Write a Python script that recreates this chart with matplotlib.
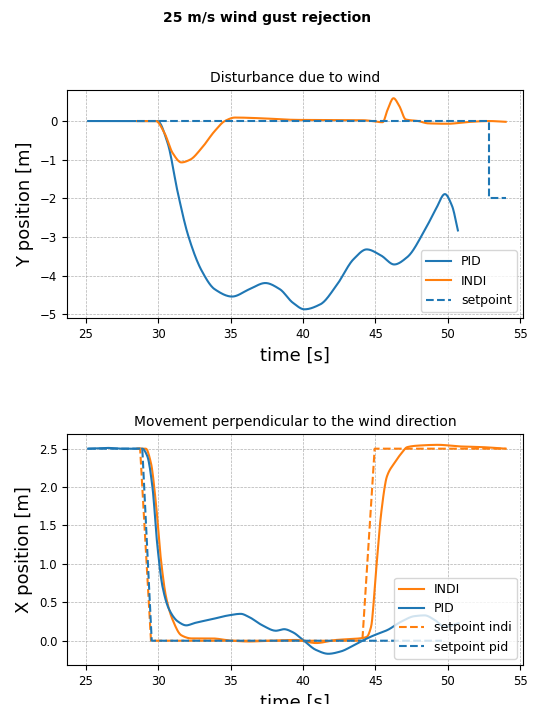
import numpy as np
import matplotlib
matplotlib.use("Agg")
import matplotlib.pyplot as plt

# ---------------- data: top plot (Y position) ----------------
pid_y_t = [25.16, 29.95, 30.65, 31.35, 32.06, 33.0, 33.9, 35.1, 36.3, 37.4, 38.4, 39.3, 40.1,
           41.2, 42.3, 43.5, 44.4, 45.4, 46.3, 47.2, 48.4, 49.2, 49.8, 50.3, 50.7]
pid_y = [0.0, 0.0, -0.57, -1.85, -2.95, -3.87, -4.35, -4.54, -4.35, -4.19, -4.35, -4.70, -4.87,
         -4.74, -4.26, -3.57, -3.32, -3.48, -3.71, -3.52, -2.83, -2.26, -1.89, -2.2, -2.83]

indi_y_t = [28.55, 29.84, 30.42, 31.0, 31.6, 32.2, 33.0, 33.9, 34.6, 35.3, 37.2, 39.5, 44.2,
            45.5, 45.85, 46.25, 46.65, 47.1, 47.95, 48.65, 50.05, 51.2, 52.85, 54.0]
indi_y = [0.0, 0.0, -0.30, -0.83, -1.07, -1.0, -0.70, -0.26, 0.0, 0.09, 0.07, 0.03, 0.02,
          -0.03, 0.30, 0.59, 0.39, 0.04, 0.0, -0.06, -0.07, -0.03, 0.0, -0.02]

sp_y_t = [28.55, 52.85, 52.85, 54.0]
sp_y = [0.0, 0.0, -2.0, -2.0]

# ---------------- data: bottom plot (X position) ----------------
indi_x_t = [28.55, 29.14, 29.5, 29.84, 30.19, 30.54, 31.0, 31.6, 32.3, 33.7, 35.1, 36.26, 37.66,
            39.5, 40.9, 42.3, 43.9, 44.4, 44.7, 45.05, 45.4, 45.8, 46.3, 46.8, 47.2, 47.95,
            49.35, 50.75, 52.4, 54.0]
indi_x = [2.5, 2.5, 2.31, 1.79, 1.05, 0.57, 0.27, 0.07, 0.03, 0.03, 0.0, -0.01, 0.0,
          0.01, -0.03, 0.01, 0.03, 0.05, 0.18, 0.92, 1.66, 2.14, 2.31, 2.44, 2.52, 2.54,
          2.55, 2.53, 2.52, 2.5]

pid_x_t = [25.16, 26.5, 27.5, 28.9, 29.25, 29.6, 29.95, 30.3, 30.77, 31.36, 31.94, 32.5, 33.7,
           34.86, 35.7, 36.26, 37.2, 38.13, 38.7, 39.3, 40.0, 40.9, 41.75, 42.6, 43.5, 44.2,
           44.9, 45.84, 46.8, 47.7, 48.4, 49.1, 49.8, 50.3, 50.75]
pid_x = [2.5, 2.51, 2.5, 2.5, 2.40, 2.0, 1.22, 0.70, 0.40, 0.25, 0.20, 0.23, 0.28,
         0.33, 0.35, 0.31, 0.20, 0.13, 0.15, 0.11, 0.01, -0.12, -0.17, -0.14, -0.06, 0.01,
         0.07, 0.14, 0.25, 0.32, 0.33, 0.27, 0.18, 0.20, 0.23]

sp_indi_t = [28.55, 28.75, 29.5, 44.1, 44.95, 54.0]
sp_indi = [2.5, 2.5, 0.0, 0.0, 2.5, 2.5]

sp_pid_t = [25.16, 28.9, 29.55, 49.6]
sp_pid = [2.5, 2.5, 0.0, 0.0]

ticks_x = [25, 30, 35, 40, 45, 50, 55]


def smooth(t, v, n=600):
    t = np.asarray(t, float)
    v = np.asarray(v, float)
    # monotone cubic (PCHIP-like) interpolation for a smooth curve
    h = np.diff(t)
    d = np.diff(v) / h
    m = np.zeros_like(v)
    m[0], m[-1] = d[0], d[-1]
    for i in range(1, len(v) - 1):
        if d[i - 1] * d[i] <= 0:
            m[i] = 0.0
        else:
            w1 = 2 * h[i] + h[i - 1]
            w2 = h[i] + 2 * h[i - 1]
            m[i] = (w1 + w2) / (w1 / d[i - 1] + w2 / d[i])
    tt = np.linspace(t[0], t[-1], n)
    idx = np.clip(np.searchsorted(t, tt) - 1, 0, len(t) - 2)
    hh = h[idx]
    s = (tt - t[idx]) / hh
    h00 = 2 * s**3 - 3 * s**2 + 1
    h10 = s**3 - 2 * s**2 + s
    h01 = -2 * s**3 + 3 * s**2
    h11 = s**3 - s**2
    vv = h00 * v[idx] + h10 * hh * m[idx] + h01 * v[idx + 1] + h11 * hh * m[idx + 1]
    return tt, vv


blue = "#1f77b4"
orange = "#ff7f0e"

fig = plt.figure(figsize=(5.34, 7.04), dpi=100)
fig.suptitle("25 m/s wind gust rejection", fontsize=10, fontweight="bold", y=0.985)

ax1 = fig.add_axes([0.1255, 0.548, 0.854, 0.324])
ax2 = fig.add_axes([0.1255, 0.0554, 0.854, 0.328])

# top
ax1.plot(*smooth(pid_y_t, pid_y), color=blue, lw=1.5, label="PID")
ax1.plot(*smooth(indi_y_t, indi_y), color=orange, lw=1.5, label="INDI")
ax1.plot(sp_y_t, sp_y, color=blue, lw=1.5, ls="--", label="setpoint")
ax1.set_title("Disturbance due to wind", fontsize=10)
ax1.set_ylabel("Y position [m]", fontsize=13)
ax1.set_xlabel("time [s]", fontsize=13)
ax1.set_xlim(23.7, 55.2)
ax1.set_ylim(-5.1, 0.8)
ax1.set_xticks(ticks_x)
ax1.set_yticks([0, -1, -2, -3, -4, -5])
ax1.grid(True, ls="--", lw=0.5, color="#b0b0b0")
ax1.legend(loc="lower right", fontsize=9)

# bottom
ax2.plot(*smooth(indi_x_t, indi_x), color=orange, lw=1.5, label="INDI")
ax2.plot(*smooth(pid_x_t, pid_x), color=blue, lw=1.5, label="PID")
ax2.plot(sp_indi_t, sp_indi, color=orange, lw=1.5, ls="--", label="setpoint indi")
ax2.plot(sp_pid_t, sp_pid, color=blue, lw=1.5, ls="--", label="setpoint pid")
ax2.set_title("Movement perpendicular to the wind direction", fontsize=10)
ax2.set_ylabel("X position [m]", fontsize=13)
ax2.set_xlabel("time [s]", fontsize=13)
ax2.set_xlim(23.7, 55.2)
ax2.set_ylim(-0.316, 2.69)
ax2.set_xticks(ticks_x)
ax2.grid(True, ls="--", lw=0.5, color="#b0b0b0")
ax2.legend(loc="lower right", fontsize=9)

for ax in (ax1, ax2):
    ax.tick_params(labelsize=8.5)

fig.savefig("out.png", dpi=100)
